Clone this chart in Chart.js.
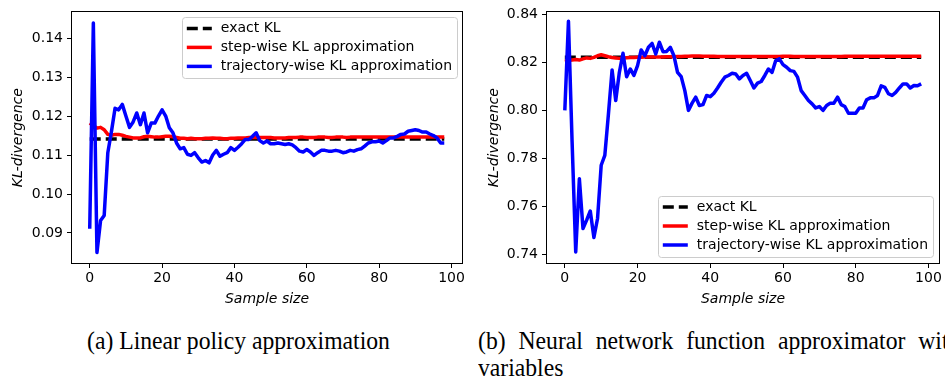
<!DOCTYPE html>
<html>
<head>
<meta charset="utf-8">
<script src="https://cdn.jsdelivr.net/npm/chart.js"></script>
<style>
  html, body { margin: 0; padding: 0; background: #fff; }
  body { width: 945px; height: 379px; position: relative; overflow: hidden; }
  canvas { position: absolute; top: 0; }
  #chartA { left: 0; }
  #chartB { left: 472px; }
  .cap { position: absolute; font-family: "Liberation Serif", "Times New Roman", serif; font-size: 26px;
         line-height: 27px; color: #000; white-space: nowrap; transform: scaleX(0.91); transform-origin: 0 0; }
  .justify { text-align: justify; text-align-last: justify; white-space: normal; }
</style>
</head>
<body>
<canvas id="chartA" width="472" height="310"></canvas>
<canvas id="chartB" width="473" height="310"></canvas>
<div class="cap" style="left:87px; top:327px;">(a) Linear policy approximation</div>
<div class="cap justify" style="left:478px; top:327px; width:530px;">(b) Neural network function approximator with</div>
<div class="cap" style="left:478px; top:354px;">variables</div>

<script>
const sampleSizes = [0,1,2,3,4,5,6,7,8,9,10,11,12,13,14,15,16,17,18,19,20,21,22,23,24,25,26,27,28,29,30,31,32,33,34,35,36,37,38,39,40,41,42,43,44,45,46,47,48,49,50,51,52,53,54,55,56,57,58,59,60,61,62,63,64,65,66,67,68,69,70,71,72,73,74,75,76,77,78,79,80,81,82,83,84,85,86,87,88,89,90,91,92,93,94,95,96,97,98];
const xTicks = [0, 20, 40, 60, 80, 100];

// (a) linear policy
const exactA = 0.1141;
const stepA = [0.1182,0.1176,0.1169,0.1171,0.1165,0.1153,0.1151,0.1153,0.1153,0.1151,0.1148,0.1146,0.1144,0.1144,0.1144,0.1147,0.1148,0.1147,0.1146,0.1146,
  0.1147,0.1148,0.1148,0.1147,0.1145,0.1143,0.1143,0.1142,0.1143,0.1142,0.1142,0.1142,0.1143,0.1143,0.1144,0.1143,0.1143,0.1142,0.1142,0.1143,
  0.1143,0.1144,0.1144,0.1144,0.1145,0.1145,0.1145,0.1145,0.1145,0.1145,0.1145,0.1144,0.1144,0.1144,0.1144,0.1145,0.1145,0.1145,0.1146,0.1146,
  0.1145,0.1145,0.1145,0.1146,0.1146,0.1146,0.1145,0.1145,0.1146,0.1146,0.1146,0.1145,0.1146,0.1146,0.1146,0.1146,0.1146,0.1146,0.1146,0.1146,
  0.1146,0.1146,0.1146,0.1146,0.1146,0.1146,0.1146,0.1146,0.1146,0.1146,0.1146,0.1146,0.1146,0.1146,0.1146,0.1146,0.1146,0.1146,0.1146];
const trajA = [0.0911,0.1439,0.0850,0.0932,0.0945,0.1106,0.1160,0.1220,0.1216,0.1230,0.1200,0.1171,0.1185,0.1208,0.1178,0.1208,0.1157,0.1182,0.1182,0.1200,
  0.1216,0.1200,0.1170,0.1157,0.1131,0.1116,0.1119,0.1102,0.1099,0.1106,0.1093,0.1082,0.1086,0.1080,0.1100,0.1112,0.1097,0.1102,0.1106,0.1119,
  0.1112,0.1120,0.1129,0.1140,0.1140,0.1148,0.1157,0.1137,0.1131,0.1136,0.1129,0.1129,0.1131,0.1129,0.1127,0.1129,0.1126,0.1119,0.1110,0.1108,
  0.1114,0.1108,0.1099,0.1106,0.1112,0.1112,0.1110,0.1110,0.1112,0.1110,0.1106,0.1108,0.1112,0.1110,0.1114,0.1116,0.1123,0.1131,0.1134,0.1134,
  0.1136,0.1131,0.1137,0.1144,0.1144,0.1148,0.1153,0.1154,0.1161,0.1163,0.1165,0.1163,0.1159,0.1159,0.1154,0.1150,0.1144,0.1131,0.1131];
const yTicksA = [0.09, 0.10, 0.11, 0.12, 0.13, 0.14];

// (b) neural network approximator
const exactB = 0.8221;
const stepB = [0.8204,0.8207,0.8209,0.8211,0.8209,0.8214,0.8218,0.8216,0.8220,0.8227,0.8231,0.8227,0.8223,0.8220,0.8218,0.8216,0.8218,0.8219,0.8220,0.8220,
  0.8221,0.8221,0.8222,0.8222,0.8222,0.8222,0.8222,0.8222,0.8223,0.8223,0.8223,0.8224,0.8224,0.8225,0.8225,0.8226,0.8226,0.8226,0.8225,0.8225,
  0.8225,0.8225,0.8224,0.8224,0.8224,0.8224,0.8224,0.8224,0.8224,0.8224,0.8224,0.8224,0.8224,0.8224,0.8224,0.8224,0.8224,0.8224,0.8224,0.8224,
  0.8225,0.8225,0.8225,0.8224,0.8224,0.8224,0.8224,0.8224,0.8224,0.8224,0.8224,0.8224,0.8224,0.8224,0.8224,0.8224,0.8224,0.8225,0.8225,0.8225,
  0.8225,0.8225,0.8225,0.8225,0.8225,0.8225,0.8225,0.8225,0.8225,0.8225,0.8225,0.8225,0.8225,0.8225,0.8225,0.8225,0.8225,0.8225,0.8225];
const trajB = [0.8000,0.8370,0.7870,0.7412,0.7716,0.7509,0.7544,0.7582,0.7472,0.7551,0.7772,0.7813,0.7986,0.8168,0.8041,0.8158,0.8237,0.8140,0.8172,0.8145,
  0.8186,0.8251,0.8227,0.8262,0.8278,0.8234,0.8283,0.8244,0.8245,0.8262,0.8227,0.8158,0.8140,0.8082,0.8000,0.8030,0.8055,0.8020,0.8024,0.8062,
  0.8057,0.8071,0.8093,0.8117,0.8138,0.8145,0.8154,0.8151,0.8131,0.8145,0.8154,0.8124,0.8093,0.8113,0.8120,0.8145,0.8172,0.8158,0.8207,0.8214,
  0.8190,0.8179,0.8165,0.8162,0.8138,0.8082,0.8062,0.8041,0.8027,0.8010,0.8016,0.8000,0.8020,0.8030,0.8030,0.8055,0.8024,0.8016,0.7988,0.7988,
  0.7988,0.8010,0.8010,0.8044,0.8052,0.8052,0.8062,0.8102,0.8096,0.8069,0.8062,0.8075,0.8093,0.8110,0.8110,0.8093,0.8103,0.8102,0.8110];
const yTicksB = [0.74, 0.76, 0.78, 0.80, 0.82, 0.84];

const seriesLabels = ['exact KL', 'step-wise KL approximation', 'trajectory-wise KL approximation'];
const FONT = '"DejaVu Sans", sans-serif';

/* ---------- matplotlib-like frame and boxed legend ---------- */
const frame = {
  id: 'frame',
  afterDatasetsDraw(chart) {
    const { ctx, chartArea: a } = chart;
    ctx.save();
    ctx.strokeStyle = '#000';
    ctx.lineWidth = 1;
    ctx.strokeRect(Math.round(a.left) - 0.5, Math.round(a.top) - 0.5, Math.round(a.right - a.left) + 1, Math.round(a.bottom - a.top) + 1);
    ctx.restore();
  }
};

const boxLegend = {
  id: 'boxLegend',
  afterDraw(chart, args, opts) {
    const { ctx, chartArea: a } = chart;
    const items = chart.data.datasets;
    ctx.save();
    ctx.font = '14px ' + FONT;
    const textW = Math.max(...items.map(d => ctx.measureText(d.label).width));
    const rowH = 19;
    const w = 4.5 + 25 + 9 + textW + 5;
    const h = 11 + rowH * (items.length - 1) + 12;
    const x = a.right - opts.right - w;
    const y = opts.top != null ? a.top + opts.top : a.bottom - opts.bottom - h;
    ctx.fillStyle = 'rgba(255,255,255,0.8)';
    ctx.strokeStyle = '#cccccc';
    ctx.lineWidth = 1;
    ctx.beginPath();
    ctx.roundRect(Math.round(x) + 0.5, Math.round(y) + 0.5, Math.round(w), Math.round(h), 3);
    ctx.fill();
    ctx.stroke();
    items.forEach((d, i) => {
      const cy = y + 11 + i * rowH;
      ctx.strokeStyle = d.borderColor;
      ctx.lineWidth = d.borderWidth;
      ctx.setLineDash(d.borderDash || []);
      ctx.beginPath();
      ctx.moveTo(x + 4.5, cy);
      ctx.lineTo(x + 29.5, cy);
      ctx.stroke();
      ctx.setLineDash([]);
      ctx.fillStyle = '#000';
      ctx.textBaseline = 'middle';
      ctx.fillText(d.label, x + 38.5, cy);
    });
    ctx.restore();
  }
};

function pts(values) {
  return values.map((v, i) => ({ x: sampleSizes[i], y: v }));
}

function makeChart(id, exact, step, traj, yTicks, yMin, yMax, pad, yWidth, legendPos) {
  const first = sampleSizes[0], last = sampleSizes[sampleSizes.length - 1];
  return new Chart(document.getElementById(id), {
    type: 'line',
    data: {
      datasets: [
        { label: seriesLabels[0], data: [{ x: first, y: exact }, { x: last, y: exact }], borderColor: '#000000', borderWidth: 3.5, borderDash: [11, 5], order: 3 },
        { label: seriesLabels[1], data: pts(step), borderColor: '#ff0000', borderWidth: 3.5, order: 2 },
        { label: seriesLabels[2], data: pts(traj), borderColor: '#0000ff', borderWidth: 3.5, order: 1 }
      ]
    },
    options: {
      responsive: false, animation: false, devicePixelRatio: 1,
      layout: { padding: pad },
      elements: { point: { radius: 0 }, line: { tension: 0, borderJoinStyle: 'round', fill: false } },
      plugins: { legend: { display: false }, tooltip: { enabled: false }, boxLegend: legendPos },
      scales: {
        x: {
          type: 'linear', min: -4.9, max: 102.9,
          afterBuildTicks: s => { s.ticks = xTicks.map(v => ({ value: v })); },
          afterFit: s => { s.height = 47; },
          border: { display: false },
          grid: { drawOnChartArea: false, drawTicks: true, tickLength: 5, color: '#000' },
          ticks: { color: '#000', padding: 2, maxRotation: 0, font: { family: FONT, size: 14 } },
          title: { display: true, text: 'Sample size', color: '#000', padding: { top: 0, bottom: 2 }, font: { family: FONT, size: 14, style: 'italic' } }
        },
        y: {
          min: yMin, max: yMax,
          afterBuildTicks: s => { s.ticks = yTicks.map(v => ({ value: v })); },
          afterFit: s => { s.width = yWidth; },
          border: { display: false },
          grid: { drawOnChartArea: false, drawTicks: true, tickLength: 5, color: '#000' },
          ticks: { color: '#000', padding: 4, callback: v => v.toFixed(2), font: { family: FONT, size: 14 } },
          title: { display: true, text: 'KL-divergence', color: '#000', padding: { top: 4, bottom: 0 }, font: { family: FONT, size: 14, style: 'italic' } }
        }
      }
    },
    plugins: [frame, boxLegend]
  });
}

makeChart('chartA', exactA, stepA, trajA, yTicksA, 0.0823, 0.1466,
  { left: 6, top: 10, right: 10, bottom: 0 }, 66, { right: 5, top: 5 });
makeChart('chartB', exactB, stepB, trajB, yTicksB, 0.7366, 0.8407,
  { left: 10, top: 12, right: 6, bottom: 0 }, 65, { right: 6, bottom: 6 });
</script>
</body>
</html>
